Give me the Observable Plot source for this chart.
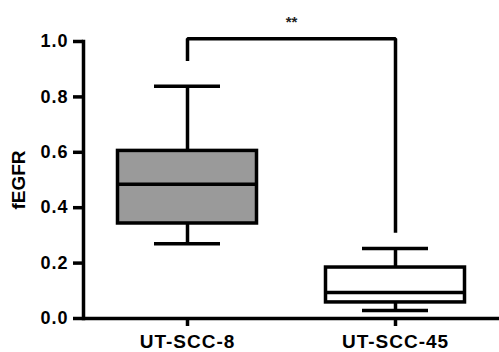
<!DOCTYPE html>
<html>
<head>
<meta charset="utf-8">
<script src="https://cdn.jsdelivr.net/npm/d3@7"></script>
<script src="https://cdn.jsdelivr.net/npm/@observablehq/plot@0.6"></script>
<style>
  body { margin: 0; background: #fff; }
  svg { font-family: "Liberation Sans", Arial, sans-serif; }
</style>
</head>
<body>
<div id="chart"></div>
<script>
const groups = ["UT-SCC-8", "UT-SCC-45"];
const whiskerLow = [0.27, 0.029];
const q1 = [0.343, 0.058];
const median = [0.485, 0.094];
const q3 = [0.605, 0.184];
const whiskerHigh = [0.838, 0.253];
const fills = ["#9a9a9a", "#ffffff"];
const yTicks = [0, 0.2, 0.4, 0.6, 0.8, 1.0];
const bracketLow = [0.93, 0.31];
const bracketTop = 1.01;
const significance = "**";
const yLabel = "fEGFR";

const boxes = groups.map((g, i) => ({
  group: g, lo: whiskerLow[i], q1: q1[i], med: median[i], q3: q3[i], hi: whiskerHigh[i], fill: fills[i]
}));
const bracket = [
  {group: groups[0], y: bracketLow[0]},
  {group: groups[0], y: bracketTop},
  {group: groups[1], y: bracketTop},
  {group: groups[1], y: bracketLow[1]}
];

const sw = 3.5;
const plot = Plot.plot({
  width: 499,
  height: 352,
  marginLeft: 83,
  marginRight: 0,
  marginTop: 41,
  marginBottom: 34,
  style: {fontFamily: "'Liberation Sans', Arial, sans-serif", background: "#fff"},
  x: {domain: groups, padding: 0, axis: null},
  y: {domain: [0, 1], axis: null},
  marks: [
    Plot.ruleX(boxes, {x: "group", y1: "q3", y2: "hi", stroke: "#000", strokeWidth: sw}),
    Plot.ruleX(boxes, {x: "group", y1: "lo", y2: "q1", stroke: "#000", strokeWidth: sw}),
    Plot.tickY(boxes, {x: "group", y: "hi", stroke: "#000", strokeWidth: sw, insetLeft: 71, insetRight: 71}),
    Plot.tickY(boxes, {x: "group", y: "lo", stroke: "#000", strokeWidth: sw, insetLeft: 71, insetRight: 71}),
    Plot.barY(boxes, {x: "group", y1: "q1", y2: "q3", fill: "fill", stroke: "#000", strokeWidth: sw, insetLeft: 34.5, insetRight: 34.5}),
    Plot.tickY(boxes, {x: "group", y: "med", stroke: "#000", strokeWidth: sw, insetLeft: 34.5, insetRight: 34.5}),
    Plot.line(bracket, {x: "group", y: "y", stroke: "#000", strokeWidth: sw, strokeLinejoin: "miter", strokeLinecap: "butt"}),
    Plot.text([significance], {frameAnchor: "top", y: () => 1.09, fontSize: 15, fontWeight: "bold", fill: "#222"}),
    Plot.axisY({ticks: yTicks, tickFormat: d3.format(".1f"), tickSize: 10, tickPadding: 5, strokeWidth: sw, fontSize: 18, fontWeight: "bold", label: null, color: "#000"}),
    Plot.axisX({tickSize: 8, tickPadding: 8, strokeWidth: sw, fontSize: 19, fontWeight: "bold", label: null, color: "#000"}),
    Plot.frame({anchor: "left", stroke: "#000", strokeWidth: sw}),
    Plot.ruleY([0], {stroke: "#000", strokeWidth: sw}),
    Plot.text([yLabel], {frameAnchor: "left", dx: -65, rotate: -90, textAnchor: "middle", fontSize: 19, fontWeight: "bold", fill: "#000"})
  ]
});
plot.querySelectorAll("[aria-label='x-axis tick label'] text, [aria-label='y-axis tick label'] text").forEach(t => t.setAttribute("letter-spacing", "1"));
document.getElementById("chart").appendChild(plot);
</script>
</body>
</html>
